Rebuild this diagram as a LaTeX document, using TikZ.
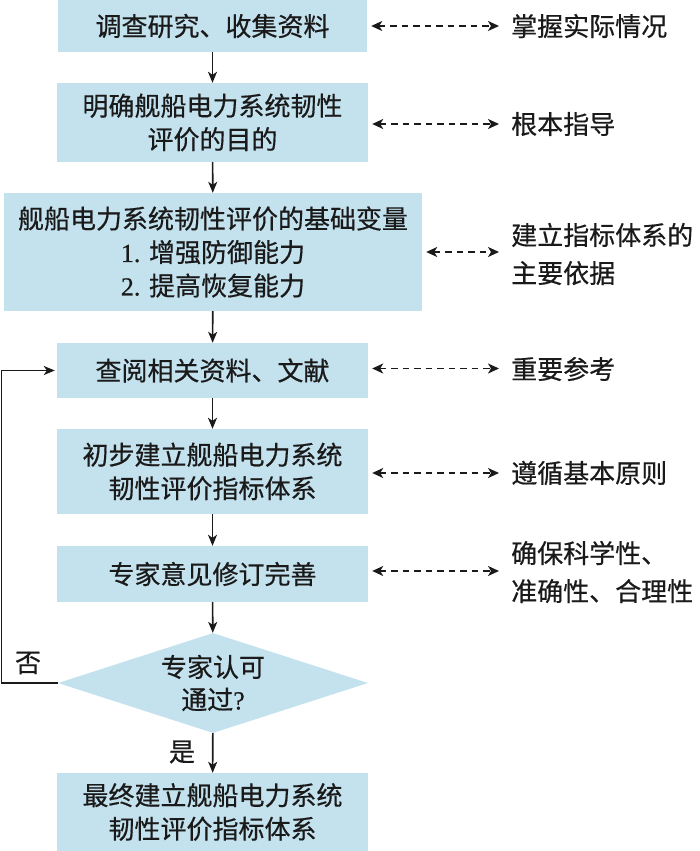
\documentclass[tikz,border=0pt]{standalone}
\usepackage{fontspec}
\setmainfont{Noto Sans CJK SC}[FakeBold=0.5]
\newfontfamily\lat{Liberation Serif}[FakeBold=0.5]
\usetikzlibrary{arrows.meta,shapes.geometric,calc}
\definecolor{boxfill}{HTML}{C4E2EE}
\definecolor{ink}{HTML}{1A1A1A}
\tikzset{
  stepbox/.style={rectangle,fill=boxfill,draw=none,inner sep=0pt,align=center,text=ink,
    font=\fontsize{26}{33.5}\selectfont},
  decbox/.style={diamond,fill=boxfill,draw=none,inner sep=0pt,aspect=3.1,align=center,text=ink,
    font=\fontsize{26}{32.5}\selectfont,minimum width=310pt,minimum height=100pt},
  lbl/.style={inner sep=0pt,anchor=west,align=left,text=ink,font=\fontsize{26}{38}\selectfont},
  yn/.style={inner sep=0pt,text=ink,font=\fontsize{26}{30}\selectfont},
  arr/.style={draw=ink,line width=1.6pt,-{Stealth[length=11pt,width=9pt,inset=3pt]}},
  darr/.style={draw=ink,line width=1.6pt,dash pattern=on 6.5pt off 5pt,
    {Stealth[length=11pt,width=10pt,inset=3pt]}-{Stealth[length=11pt,width=10pt,inset=3pt]},
    shorten <=4pt,shorten >=12pt}
}
\begin{document}
\begin{tikzpicture}[x=1pt,y=-1pt]
\useasboundingbox (0,0) rectangle (700,851);
% main column
\node[stepbox,minimum width=309pt,minimum height=52pt] (b1) at (212.5,26) {调查研究、收集资料};
\node[stepbox,minimum width=311pt,minimum height=79pt] (b2) at (212.5,122.5) {明确舰船电力系统韧性\\评价的目的};
\node[stepbox,minimum width=418pt,minimum height=118pt] (b3) at (213,252) {舰船电力系统韧性评价的基础变量\\{\lat 1. }增强防御能力\\{\lat 2. }提高恢复能力};
\node[stepbox,minimum width=311pt,minimum height=55pt] (b4) at (212.5,370.5) {查阅相关资料、文献};
\node[stepbox,minimum width=311pt,minimum height=85pt] (b5) at (212.5,471.5) {初步建立舰船电力系统\\韧性评价指标体系};
\node[stepbox,minimum width=311pt,minimum height=56pt] (b6) at (212.5,574) {专家意见修订完善};
\node[decbox] (d) at (213,683) {专家认可\\通过{\lat ?}};
\node[stepbox,minimum width=311pt,minimum height=78pt] (b7) at (212.5,812) {最终建立舰船电力系统\\韧性评价指标体系};
% right labels
\node[lbl] (r1) at (511,26) {掌握实际情况};
\node[lbl] (r2) at (511,124) {根本指导};
\node[lbl] (r3) at (511,254) {建立指标体系的\\主要依据};
\node[lbl] (r4) at (511,369) {重要参考};
\node[lbl] (r5) at (511,473) {遵循基本原则};
\node[lbl] (r6) at (511,572) {确保科学性、\\准确性、合理性};
% yes / no
\node[yn] (no) at (28,663) {否};
\node[yn] (yes) at (182,752) {是};
\coordinate (lp) at (1.5,683);
% vertical arrows
\draw[arr] (b1) -- (b2);
\draw[arr] (b2) -- (b3);
\draw[arr] (b3) -- (b4);
\draw[arr] (b4) -- (b5);
\draw[arr] (b5) -- (b6);
\draw[arr] (b6) -- (d);
\draw[arr] (d) -- (b7);
% loop back
\draw[arr,shorten >=2pt] (d.west) -- (lp) |- (b4.west);
% dashed arrows
\draw[darr] (b1.east) -- (b1.east -| r1.west);
\draw[darr] ($(b2.east)+(0,1.5)$) -- ($(b2.east -| r2.west)+(0,1.5)$);
\draw[darr] (b3.east) -- (b3.east -| r3.west);
\draw[darr] ($(b4.east)+(0,-2)$) -- ($(b4.east -| r4.west)+(0,-2)$);
\draw[darr] ($(b5.east)+(0,1.5)$) -- ($(b5.east -| r5.west)+(0,1.5)$);
\draw[darr] ($(b6.east)+(0,-3)$) -- ($(b6.east -| r6.west)+(0,-3)$);
\end{tikzpicture}
\end{document}
